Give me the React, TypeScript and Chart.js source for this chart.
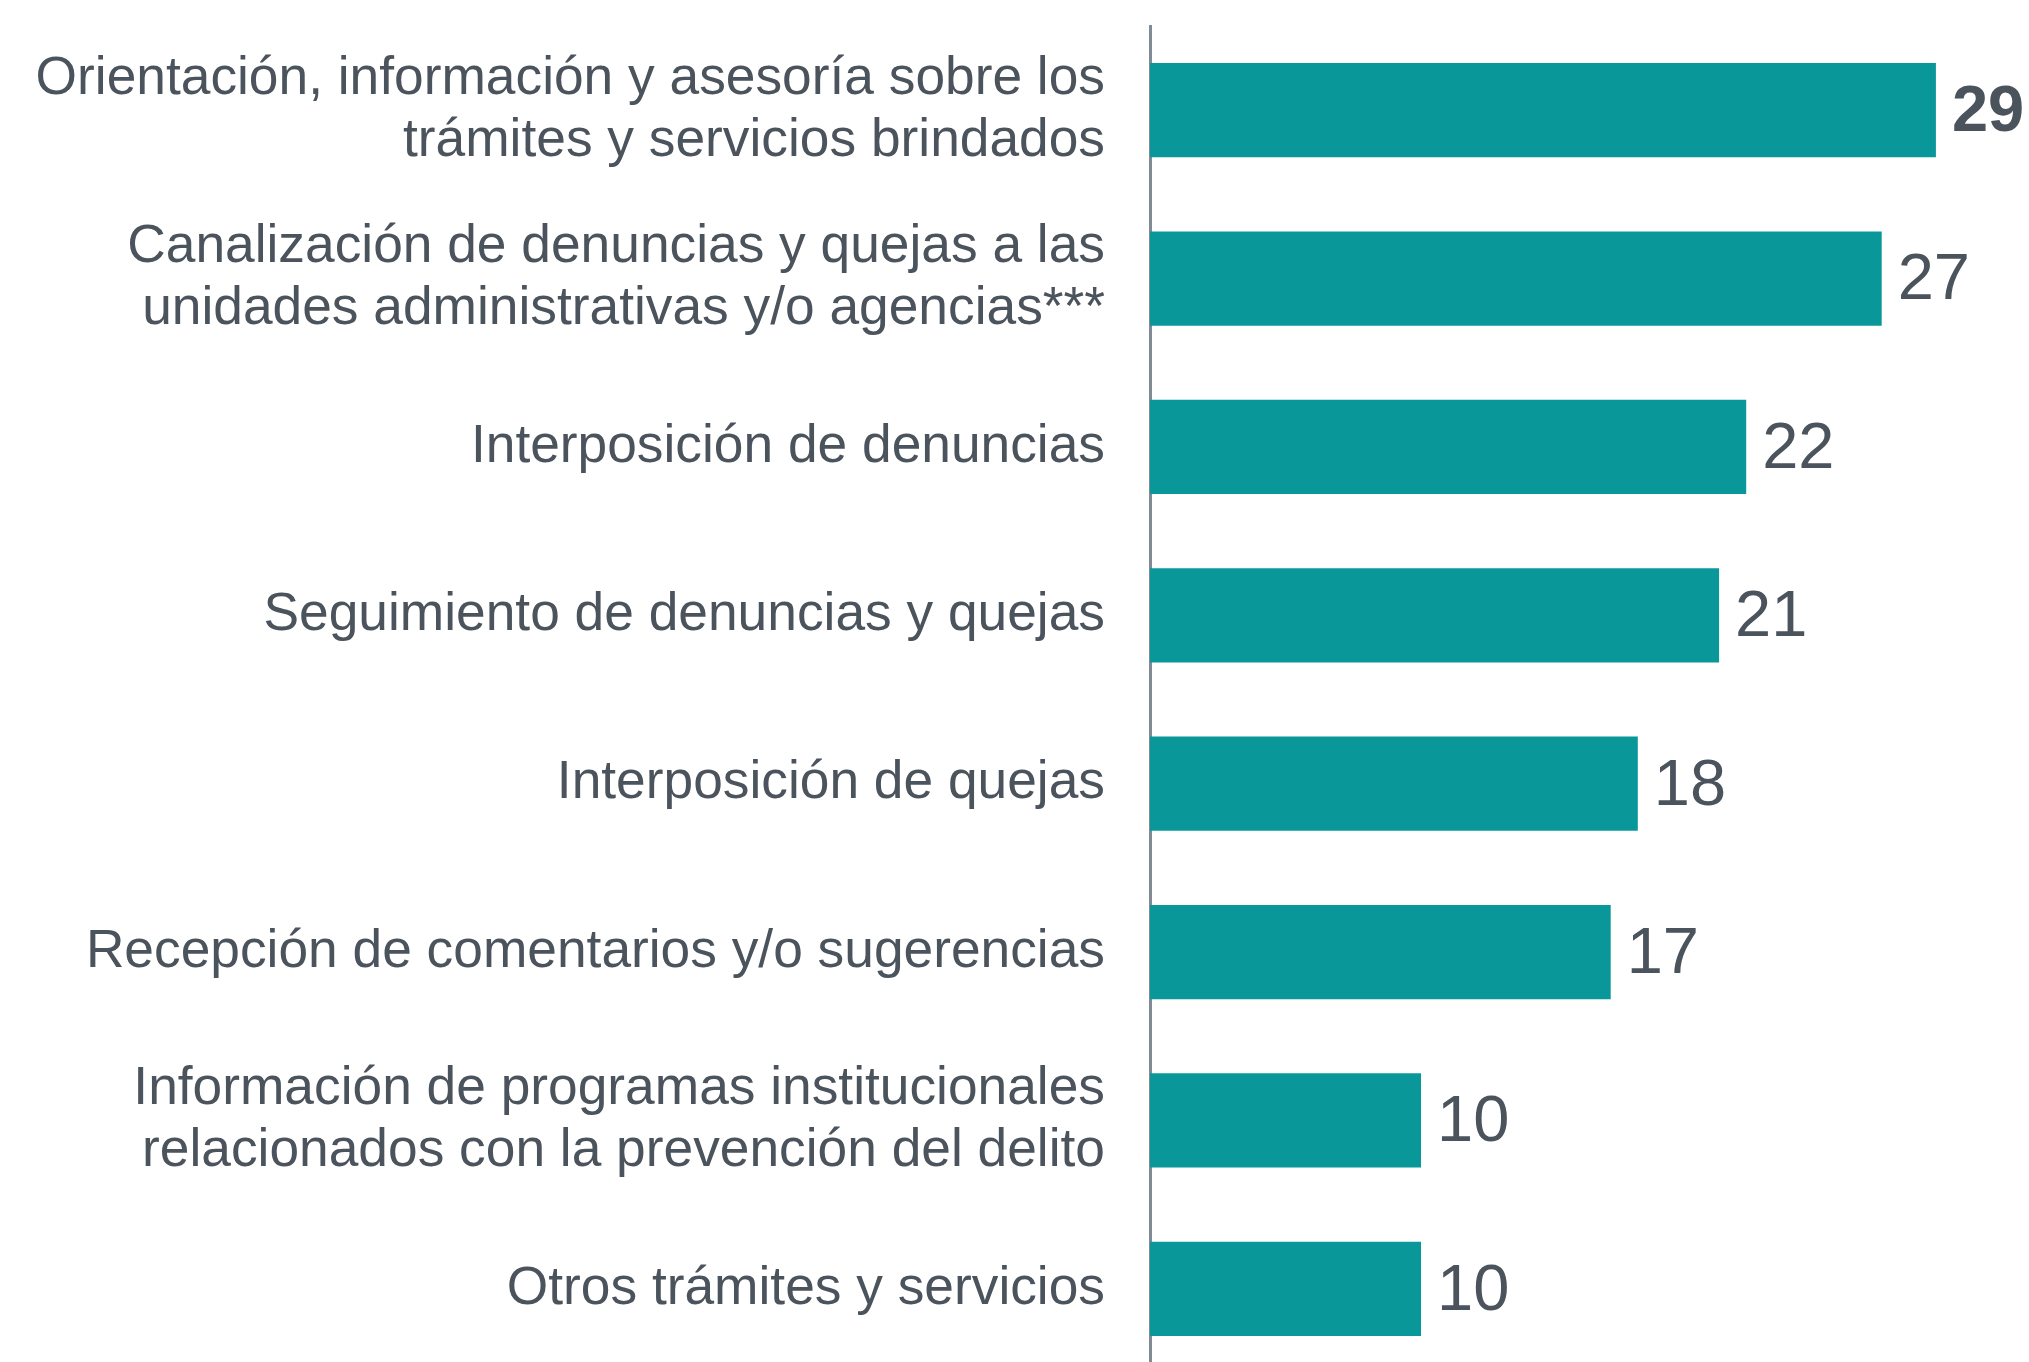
import React, { useEffect, useRef } from "react";
import { Chart, registerables } from "chart.js";

Chart.register(...registerables);

const categories: (string | string[])[] = [
  ["Orientación, información y asesoría sobre los", "trámites y servicios brindados"],
  ["Canalización de denuncias y quejas a las", "unidades administrativas y/o agencias***"],
  "Interposición de denuncias",
  "Seguimiento de denuncias y quejas",
  "Interposición de quejas",
  "Recepción de comentarios y/o sugerencias",
  ["Información de programas institucionales", "relacionados con la prevención del delito"],
  "Otros trámites y servicios",
];
const values: number[] = [29, 27, 22, 21, 18, 17, 10, 10];
const boldLabelIndex: number[] = [0];

const BAR_COLOR = "#0A979A";
const TEXT_COLOR = "#4B535C";
const AXIS_COLOR = "#808B96";
const FONT = "'Liberation Sans', Arial, sans-serif";

const valueLabels = {
  id: "valueLabels",
  afterDatasetsDraw(chart: any) {
    const ctx = chart.ctx;
    const meta = chart.getDatasetMeta(0);
    ctx.save();
    ctx.fillStyle = TEXT_COLOR;
    ctx.textAlign = "left";
    ctx.textBaseline = "middle";
    meta.data.forEach((bar: any, i: number) => {
      const bold = boldLabelIndex.includes(i);
      ctx.font = `${bold ? "bold " : ""}65px ${FONT}`;
      ctx.fillText(String(values[i]), bar.x + 16, bar.y + 3);
    });
    ctx.restore();
  },
};

export default function App() {
  const ref = useRef<HTMLCanvasElement>(null);
  useEffect(() => {
    if (!ref.current) return;
    const chart = new Chart(ref.current, {
      type: "bar",
      data: {
        labels: categories,
        datasets: [
          {
            data: values,
            backgroundColor: BAR_COLOR,
            borderWidth: 0,
            barPercentage: 0.56,
            categoryPercentage: 1,
          },
        ],
      },
      options: {
        indexAxis: "y",
        animation: false,
        responsive: true,
        maintainAspectRatio: false,
        devicePixelRatio: 1,
        layout: { padding: { top: 26, bottom: 7, right: 66, left: 0 } },
        plugins: {
          legend: { display: false },
          tooltip: { enabled: false },
        },
        scales: {
          x: {
            display: false,
            min: 0,
            max: 30,
          },
          y: {
            grid: { display: false, drawTicks: false },
            border: { display: true, color: AXIS_COLOR, width: 3 },
            ticks: {
              color: TEXT_COLOR,
              padding: 45,
              autoSkip: false,
              font: { family: FONT, size: 53.3, lineHeight: 1.17 },
            },
            afterFit: (scale: any) => {
              scale.width = 1150;
              scale.paddingTop = 0;
              scale.paddingBottom = 0;
            },
          },
        },
      },
      plugins: [valueLabels],
    });
    return () => chart.destroy();
  }, []);
  return (
    <div
      style={{
        position: "fixed",
        left: 0,
        top: 0,
        width: 2029,
        height: 1362,
        overflow: "hidden",
        background: "#ffffff",
      }}
    >
      <div style={{ position: "relative", width: 2029, height: 1380 }}>
        <canvas ref={ref} />
      </div>
    </div>
  );
}
